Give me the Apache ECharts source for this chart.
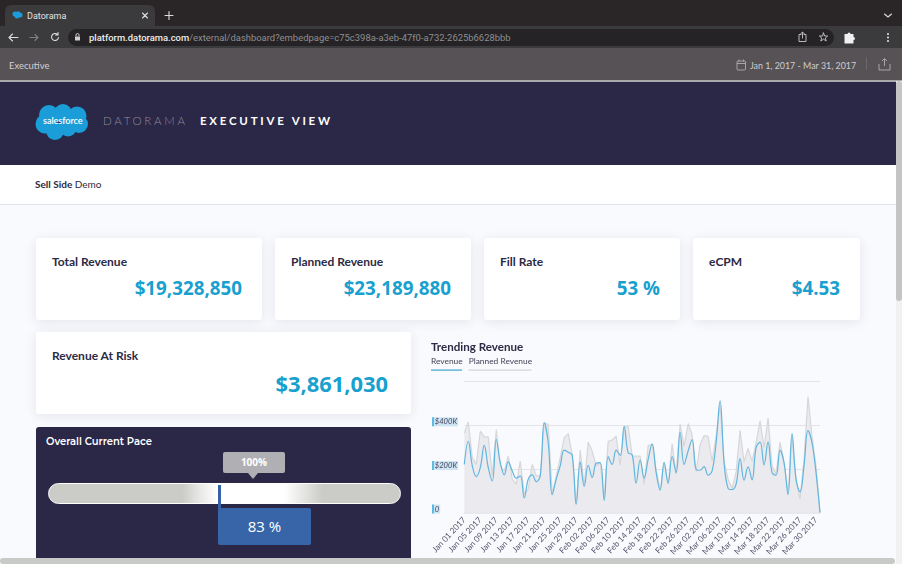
<!DOCTYPE html>
<html><head><meta charset="utf-8">
<script src="https://cdn.jsdelivr.net/npm/echarts@6/dist/echarts.min.js"></script>
<style>
html,body{margin:0;padding:0;width:902px;height:564px;overflow:hidden;background:#f9fafd;font-family:Lato,sans-serif}
.a{position:absolute;white-space:nowrap}
.card{position:absolute;background:#fff;border-radius:3px;box-shadow:0 2px 12px rgba(50,50,90,.10)}
.card .t{position:absolute;left:16px;top:16px;font:bold 12px/16px Lato,sans-serif;color:#2c2a45}
.card .v{position:absolute;right:20px;font-family:"Open Sans",sans-serif;font-weight:700;color:#18a0cf}
svg{position:absolute;left:0;top:0}
</style></head><body>
<div class="a" style="left:0;top:0;width:902px;height:26px;background:#2a2627"></div>
<div class="a" style="left:5px;top:5px;width:150px;height:21px;background:#3b3a3d;border-radius:6px 6px 0 0"></div>
<div class="a" style="left:0;top:26px;width:902px;height:22px;background:#3b3a3d"></div>
<div class="a" style="left:68px;top:29px;width:766px;height:17px;background:#252325;border-radius:9px"></div>
<div class="a" style="left:0;top:48px;width:902px;height:32px;background:#565256"></div>
<div class="a" style="left:0;top:80px;width:902px;height:1.5px;background:#a9a8ab"></div>
<div class="a" style="left:0;top:81.5px;width:902px;height:83.5px;background:#2b2747"></div>
<div class="a" style="left:0;top:165px;width:902px;height:39px;background:#fff;border-bottom:1px solid #dfe0ea"></div>
<div class="a" style="left:27px;top:10px;font:9px/12px Roboto,sans-serif;color:#e2e2e2">Datorama</div>
<div class="a" style="left:89px;top:31px;font:500 9.44px/13px Roboto,sans-serif;color:#eeeeee">platform.datorama.com<span style="color:#8f8e90;font-weight:400">/external/dashboard?embedpage=c75c398a-a3eb-47f0-a732-2625b6628bbb</span></div>
<div class="a" style="left:9px;top:59px;font:9.5px/13px Lato,sans-serif;color:#d2d0d2">Executive</div>
<div class="a" style="left:750px;top:59px;font:8.9px/13px Lato,sans-serif;color:#cfcdd0">Jan 1, 2017 - Mar 31, 2017</div>
<div class="a" style="left:103px;top:113px;font:300 11.5px/15px Lato,sans-serif;color:#8d8c9c;letter-spacing:2.7px">DATORAMA</div>
<div class="a" style="left:200px;top:113px;font:bold 11.5px/15px Lato,sans-serif;color:#fff;letter-spacing:2.75px">EXECUTIVE VIEW</div>
<div class="a" style="left:35px;top:177px;font:10px/14px Lato,sans-serif;color:#2c2a45"><b>Sell Side</b> Demo</div>

<svg width="902" height="564">
 <g fill="#1a9dd9" transform="translate(35,103)">
  <circle cx="14" cy="12" r="10"/><circle cx="28" cy="10" r="9"/><circle cx="42" cy="13" r="9.500"/>
  <circle cx="44" cy="21" r="9"/><circle cx="33" cy="25" r="8.500"/><circle cx="20" cy="28" r="9"/><circle cx="10" cy="21" r="9.500"/>
 </g>
 <g fill="#1a9dd9" transform="translate(12,11)">
  <circle cx="3" cy="3" r="2.500"/><circle cx="6" cy="2.500" r="2.300"/><circle cx="8" cy="4" r="2.500"/><circle cx="5" cy="5" r="2.500"/>
 </g>
 <g stroke="#dcdcdc" stroke-width="1.1" fill="none" stroke-linecap="round">
  <path d="M142.500 13l5 5M147.500 13l-5 5M165 15.500h8M169 11.500v8"/>
  <path d="M884.500 14l3.500 3 3.500-3"/>
  <path d="M9 37.500h9M12.500 34l-3.500 3.500 3.500 3.500"/>
  <path d="M30 37.500h8M35 34.500l3 3-3 3" stroke="#7f7e80"/>
  <path d="M57.500 34.500a3.500 3.500 0 1 0 1 3M58 32.500v2.500h-2.500"/>
  <path d="M801 34.500h-2v7h7v-7h-2M802.500 38v-5.500M800.500 34l2-2 2 2" stroke="#c8c8c8" stroke-width=".9"/>
  <path d="M823.500 33l1.200 3h3l-2.400 2 .9 3-2.700-1.800-2.700 1.800.9-3-2.400-2h3z" stroke="#c8c8c8" stroke-width=".9"/>
 </g>
 <rect x="75" y="36.500" width="5" height="4" rx=".6" fill="#d0d0d0"/>
 <path d="M76 36.500v-1.500a1.500 1.500 0 0 1 3 0v1.500" stroke="#d0d0d0" fill="none"/>
 <path d="M844.500 34h3a1.500 1.500 0 0 1 3 0h3v3a1.500 1.500 0 0 1 0 3v3.500h-9z" fill="#f0f0f0"/>
 <g fill="#e8e8e8"><circle cx="888" cy="34" r="1"/><circle cx="888" cy="37.500" r="1"/><circle cx="888" cy="41" r="1"/></g>
 <g stroke="#a7a5a8" fill="none" stroke-width="1">
  <rect x="737" y="61" width="8.500" height="9" rx="1"/><path d="M737 63.500h8.500M739 59.500v2M743.500 59.500v2"/>
  <path d="M866.500 57.500v12" stroke="#6c686c"/>
  <path d="M879 64v6h11v-6M884.500 66v-7M882 61l2.500-2.500 2.500 2.500"/>
 </g>
</svg>
<div class="a" style="left:43px;top:113px;width:40px;font:600 9.2px/15px Lato,sans-serif;color:#fff;letter-spacing:-.1px">salesforce</div>

<div class="card" style="left:36px;top:238px;width:226px;height:82px"><div class="t">Total Revenue</div><div class="v" style="top:36px;font-size:18.8px;line-height:28px">$19,328,850</div></div>
<div class="card" style="left:275px;top:238px;width:196px;height:82px"><div class="t">Planned Revenue</div><div class="v" style="top:36px;font-size:18.8px;line-height:28px">$23,189,880</div></div>
<div class="card" style="left:484px;top:238px;width:196px;height:82px"><div class="t">Fill Rate</div><div class="v" style="top:36px;font-size:18.8px;line-height:28px">53 %</div></div>
<div class="card" style="left:693px;top:238px;width:167px;height:82px"><div class="t">eCPM</div><div class="v" style="top:36px;font-size:18.8px;line-height:28px">$4.53</div></div>
<div class="card" style="left:36px;top:332px;width:375px;height:82px"><div class="t">Revenue At Risk</div><div class="v" style="right:23px;top:36px;font-size:21.9px;line-height:32px">$3,861,030</div></div>

<div class="a" style="left:36px;top:427px;width:375px;height:137px;background:#2b2747;border-radius:3px"></div>
<div class="a" style="left:46px;top:435px;font:600 10px/14px Montserrat,'Open Sans',sans-serif;color:#fff">Overall Current Pace</div>
<div class="a" style="left:223px;top:452px;width:62px;height:21px;background:#b0afb3;border-radius:2px;text-align:center;font:bold 10px/21px 'Open Sans',sans-serif;color:#fff">100%</div>
<div class="a" style="left:248px;top:473px;width:0;height:0;border-left:5.500px solid transparent;border-right:5.500px solid transparent;border-top:6px solid #b0afb3"></div>
<div class="a" style="left:48px;top:483px;width:350.500px;height:18.500px;border:1.300px solid #fff;border-radius:11px;background:linear-gradient(90deg,#cbcbc7 0%,#cbcbc7 38%,#e8e8e6 43%,#fff 48%,#fff 67%,#e8e8e6 72%,#cbcbc7 78%,#cbcbc7 100%)"></div>
<div class="a" style="left:218px;top:485px;width:2.500px;height:24px;background:#3563a8"></div>
<div class="a" style="left:218px;top:508px;width:93px;height:37px;background:#3865a8;border-radius:2px;text-align:center;font:400 15px/37px 'Open Sans',sans-serif;color:#fff">83 %</div>

<div id="chart" class="a" style="left:420px;top:330px;width:476px;height:228px"></div>

<div class="a" style="left:896px;top:81px;width:6px;height:483px;background:#f1f1f3"></div>
<div class="a" style="left:896px;top:81px;width:6px;height:220px;background:#c5c5c5;border-radius:3px"></div>
<div class="a" style="left:0;top:558px;width:895px;height:6px;background:#c8cac7;border-radius:3px"></div>

<script>
var categories = ["Jan 01 2017","Jan 02 2017","Jan 03 2017","Jan 04 2017","Jan 05 2017","Jan 06 2017","Jan 07 2017","Jan 08 2017","Jan 09 2017","Jan 10 2017","Jan 11 2017","Jan 12 2017","Jan 13 2017","Jan 14 2017","Jan 15 2017","Jan 16 2017","Jan 17 2017","Jan 18 2017","Jan 19 2017","Jan 20 2017","Jan 21 2017","Jan 22 2017","Jan 23 2017","Jan 24 2017","Jan 25 2017","Jan 26 2017","Jan 27 2017","Jan 28 2017","Jan 29 2017","Jan 30 2017","Jan 31 2017","Feb 01 2017","Feb 02 2017","Feb 03 2017","Feb 04 2017","Feb 05 2017","Feb 06 2017","Feb 07 2017","Feb 08 2017","Feb 09 2017","Feb 10 2017","Feb 11 2017","Feb 12 2017","Feb 13 2017","Feb 14 2017","Feb 15 2017","Feb 16 2017","Feb 17 2017","Feb 18 2017","Feb 19 2017","Feb 20 2017","Feb 21 2017","Feb 22 2017","Feb 23 2017","Feb 24 2017","Feb 25 2017","Feb 26 2017","Feb 27 2017","Feb 28 2017","Mar 01 2017","Mar 02 2017","Mar 03 2017","Mar 04 2017","Mar 05 2017","Mar 06 2017","Mar 07 2017","Mar 08 2017","Mar 09 2017","Mar 10 2017","Mar 11 2017","Mar 12 2017","Mar 13 2017","Mar 14 2017","Mar 15 2017","Mar 16 2017","Mar 17 2017","Mar 18 2017","Mar 19 2017","Mar 20 2017","Mar 21 2017","Mar 22 2017","Mar 23 2017","Mar 24 2017","Mar 25 2017","Mar 26 2017","Mar 27 2017","Mar 28 2017","Mar 29 2017","Mar 30 2017","Mar 31 2017"];
var revenue = [221,327,214,165,206,308,206,145,335,229,173,232,191,158,168,67,153,173,141,168,411,320,82,153,214,286,277,262,38,232,120,217,161,226,229,56,256,221,286,262,395,274,265,135,241,158,244,315,183,103,229,135,256,183,368,221,282,335,198,194,211,171,191,320,512,229,111,105,130,247,148,209,150,297,323,218,324,183,171,286,229,82,362,153,95,214,376,320,183,0];
var planned = [365,415,251,221,373,347,347,168,380,214,191,259,153,130,236,85,108,221,168,168,411,403,85,168,251,342,362,267,39,286,123,323,282,214,229,62,327,332,350,217,388,398,259,259,259,130,308,312,198,103,232,130,315,176,406,305,408,358,186,312,353,350,236,350,494,236,153,111,183,377,232,294,236,320,421,297,433,214,176,323,229,92,350,150,62,244,532,350,214,0];
var yTicks = {0:"0",200:"$200K",400:"$400K"};
var seriesNames = ["Revenue","Planned Revenue"];
var chartTitle = "Trending Revenue";

var chart = echarts.init(document.getElementById('chart'), null, {renderer:'canvas'});
chart.setOption({
  animation:false,
  backgroundColor:'transparent',
  title:{text:chartTitle,left:11,top:11,padding:0,textStyle:{fontFamily:'Lato',fontWeight:'bold',fontSize:11.6,color:'#2c2a45'}},
  legend:{data:seriesNames,left:11,top:27,padding:0,itemWidth:0,itemHeight:0,itemGap:6,icon:'rect',selectedMode:false,
    textStyle:{fontFamily:'Lato',fontSize:8.4,color:'#44425a',padding:[0,0,0,-5]}},
  graphic:[
    {type:'rect',shape:{x:11,y:39.5,width:31,height:1.2},style:{fill:'#3ea2d2'},silent:true},
    {type:'rect',shape:{x:48.500,y:39.5,width:63,height:1.2},style:{fill:'#d5d5d8'},silent:true}
  ],
  grid:{left:44.3,right:76,top:51.7,bottom:44.3,containLabel:false},
  xAxis:{type:'category',data:categories,boundaryGap:false,
    axisLine:{show:true,lineStyle:{color:'#e4e4e8',width:1.5}},
    axisTick:{show:false},
    splitLine:{show:false},
    axisLabel:{interval:3,rotate:47,margin:6,fontFamily:'Lato',fontSize:8.2,color:'#55536a',hideOverlap:false}},
  yAxis:{type:'value',min:0,max:600,interval:200,
    axisLine:{show:false},axisTick:{show:false},
    splitLine:{show:true,lineStyle:{color:'#e4e4e8',width:1.2}},
    axisLabel:{align:'left',margin:32,padding:[0,0,7,0],
      formatter:function(v){var s=yTicks[v];return s===undefined?'':'{m|}{b|'+s+'}';},
      rich:{
        m:{backgroundColor:'#1a9dd9',width:1.5,height:9},
        b:{backgroundColor:'#cde4f3',fontFamily:'Lato',fontStyle:'italic',fontSize:7.6,color:'#4a4860',height:9,lineHeight:9,padding:[0,1,0,1]}
      }}},
  series:[
    {name:'Planned Revenue',type:'line',data:planned,z:2,symbol:'none',smooth:false,
      lineStyle:{color:'#d7d7da',width:1.2},itemStyle:{color:'#d7d7da'},
      areaStyle:{color:'#ebebef',opacity:1}},
    {name:'Revenue',type:'line',data:revenue,z:3,symbol:'none',smooth:0.4,
      lineStyle:{color:'#62b6de',width:1.2},itemStyle:{color:'#62b6de'}}
  ]
});
</script>
</body></html>
